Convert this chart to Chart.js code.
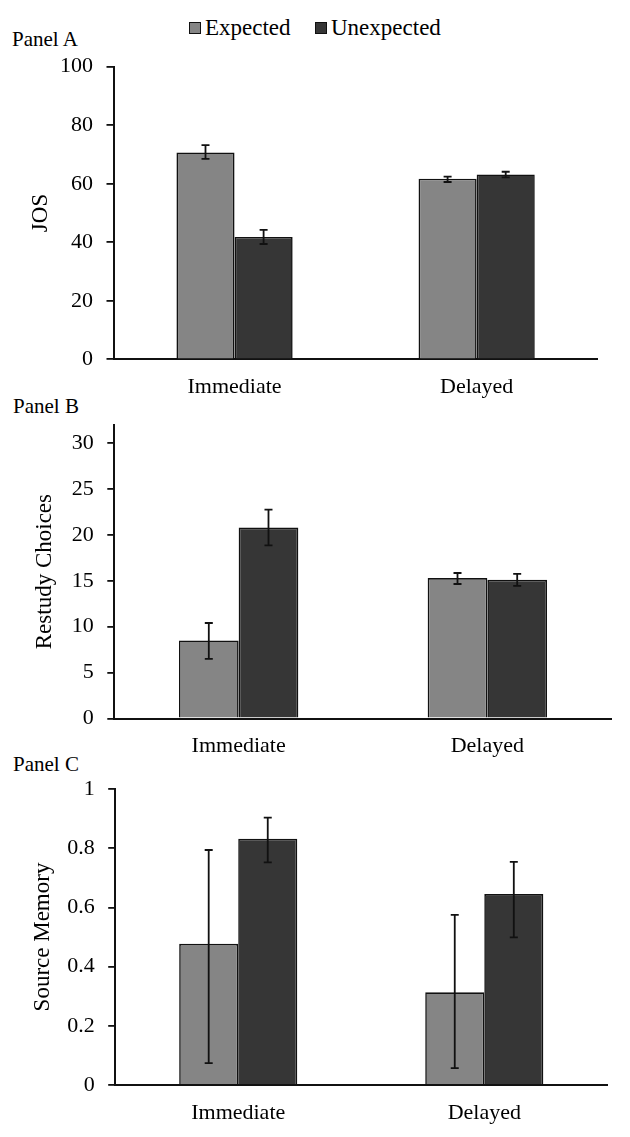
<!DOCTYPE html>
<html><head><meta charset="utf-8">
<script src="https://cdn.jsdelivr.net/npm/chart.js@4.4.1/dist/chart.umd.min.js"></script>
<style>
html,body{margin:0;padding:0;background:#fff;width:630px;height:1137px;overflow:hidden;font-family:"Liberation Serif","Times New Roman",serif;color:#000;}
.panel{position:absolute;left:0;width:630px;}
.plabel{position:absolute;font-size:21px;line-height:21px;white-space:nowrap;}
.litem{position:absolute;top:16px;display:flex;align-items:center;font-size:23px;line-height:23px;white-space:nowrap;}
.sw{display:inline-block;width:10px;height:10px;border:1px solid #111;margin-right:4px;}
</style></head>
<body>
<div class="litem" style="left:189px"><span class="sw" style="background:#858585"></span>Expected</div>
<div class="litem" style="left:315px"><span class="sw" style="background:#363636"></span>Unexpected</div>
<div class="plabel" style="left:12px;top:29px">Panel A</div>
<div class="plabel" style="left:13px;top:396px">Panel B</div>
<div class="plabel" style="left:13px;top:754px">Panel C</div>
<div class="panel" style="top:0px;height:398px"><canvas id="cA" width="630" height="398"></canvas></div>
<div class="panel" style="top:398px;height:370px"><canvas id="cB" width="630" height="370"></canvas></div>
<div class="panel" style="top:760px;height:377px"><canvas id="cC" width="630" height="377"></canvas></div>
<script>
// ---- data ----
const categories = ['Immediate', 'Delayed'];
const seriesNames = ['Expected', 'Unexpected'];

// Panel A: JOS
const josExpected = [70.7, 61.7];
const josUnexpected = [41.8, 63.2];
const josExpectedPlus = [2.5, 0.7];
const josExpectedMinus = [2.2, 1.1];
const josUnexpectedPlus = [2.4, 0.9];
const josUnexpectedMinus = [2.4, 1.0];
const josTicks = [0, 100, 20];

// Panel B: Restudy Choices
const restudyExpected = [8.5, 15.3];
const restudyUnexpected = [20.8, 15.1];
const restudyExpectedPlus = [1.9, 0.55];
const restudyExpectedMinus = [2.0, 0.65];
const restudyUnexpectedPlus = [1.95, 0.65];
const restudyUnexpectedMinus = [1.95, 0.65];
const restudyTicks = [0, 32, 5];

// Panel C: Source Memory
const sourceExpected = [0.477, 0.313];
const sourceUnexpected = [0.832, 0.645];
const sourceExpectedPlus = [0.317, 0.262];
const sourceExpectedMinus = [0.403, 0.256];
const sourceUnexpectedPlus = [0.071, 0.109];
const sourceUnexpectedMinus = [0.080, 0.146];
const sourceTicks = [0, 1, 0.2];

// ---- drawing ----
const FONT = '"Liberation Serif", "Times New Roman", serif';
const COLORS = ['#858585', '#363636'];

const errorBars = {
  id: 'errorBars',
  afterDatasetsDraw(chart) {
    const ctx = chart.ctx;
    const ys = chart.scales.y;
    ctx.save();
    ctx.strokeStyle = '#111';
    ctx.lineWidth = 1.8;
    chart.data.datasets.forEach((ds, i) => {
      const meta = chart.getDatasetMeta(i);
      meta.data.forEach((bar, j) => {
        const v = ds.data[j];
        const yTop = ys.getPixelForValue(v + ds.errPlus[j]);
        const yBot = ys.getPixelForValue(v - ds.errMinus[j]);
        const x = bar.x;
        ctx.beginPath();
        ctx.moveTo(x, yTop); ctx.lineTo(x, yBot);
        ctx.moveTo(x - 4, yTop); ctx.lineTo(x + 4, yTop);
        ctx.moveTo(x - 4, yBot); ctx.lineTo(x + 4, yBot);
        ctx.stroke();
      });
    });
    ctx.restore();
  }
};

function makePanel(id, cfg) {
  const datasets = [cfg.exp, cfg.unexp].map((d, i) => ({
    label: seriesNames[i],
    data: d,
    errPlus: cfg.plus[i],
    errMinus: cfg.minus[i],
    backgroundColor: COLORS[i],
    borderColor: '#111',
    borderWidth: 1.6,
    borderSkipped: 'start',
    categoryPercentage: 0.48,
    barPercentage: 1.0
  }));
  new Chart(document.getElementById(id), {
    type: 'bar',
    data: { labels: categories, datasets },
    plugins: [errorBars],
    options: {
      responsive: false,
      animation: false,
      devicePixelRatio: 1,
      layout: { padding: { left: 0, right: cfg.right, top: cfg.top, bottom: 0 } },
      plugins: { legend: { display: false }, tooltip: { enabled: false } },
      scales: {
        x: {
          grid: { display: false },
          border: { display: true, color: '#111', width: 2 },
          ticks: { color: '#000', font: { family: FONT, size: 22 }, padding: 7 },
          afterFit: s => { s.height = cfg.xH; }
        },
        y: {
          min: cfg.ticks[0], max: cfg.ticks[1],
          ticks: { stepSize: cfg.ticks[2], includeBounds: false, color: '#000', font: { family: FONT, size: 22 }, padding: 13.5,
                   callback: v => String(Math.round(v * 10) / 10) },
          grid: { drawOnChartArea: false, drawTicks: true, tickLength: 7, color: '#111', lineWidth: 1.8 },
          border: { display: true, color: '#111', width: 2 },
          title: { display: true, text: cfg.title, color: '#000', font: { family: FONT, size: 23 }, padding: { top: cfg.titlePad, bottom: 0 } },
          afterFit: s => { s.width = cfg.yW; }
        }
      }
    }
  });
}

makePanel('cA', { exp: josExpected, unexp: josUnexpected,
  plus: [josExpectedPlus, josUnexpectedPlus], minus: [josExpectedMinus, josUnexpectedMinus],
  ticks: josTicks, title: 'JOS', top: 66.7, right: 32.3, xH: 38.7, yW: 113.5, titlePad: 27 });
makePanel('cB', { exp: restudyExpected, unexp: restudyUnexpected,
  plus: [restudyExpectedPlus, restudyUnexpectedPlus], minus: [restudyExpectedMinus, restudyUnexpectedMinus],
  ticks: restudyTicks, title: 'Restudy Choices', top: 24.7, right: 18.3, xH: 49.5, yW: 114.3, titlePad: 31 });
makePanel('cC', { exp: sourceExpected, unexp: sourceUnexpected,
  plus: [sourceExpectedPlus, sourceUnexpectedPlus], minus: [sourceExpectedMinus, sourceUnexpectedMinus],
  ticks: sourceTicks, title: 'Source Memory', top: 29, right: 22.7, xH: 52, yW: 115.2, titlePad: 29 });
</script>
</body></html>
